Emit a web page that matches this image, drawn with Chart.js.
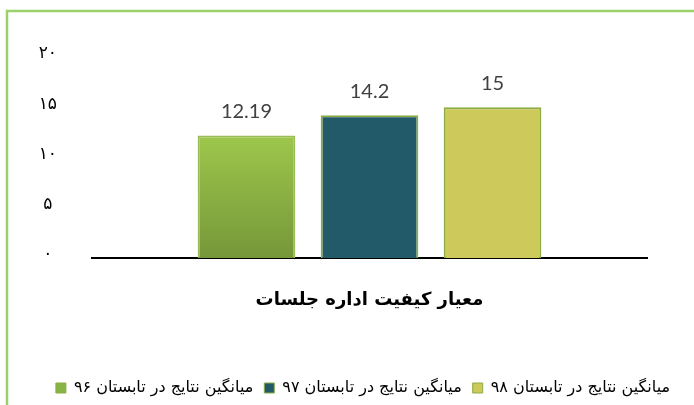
<!DOCTYPE html>
<html>
<head>
<meta charset="utf-8">
<script src="https://cdn.jsdelivr.net/npm/chart.js@4/dist/chart.umd.min.js"></script>
<style>
body { margin: 0; background: #fff; }
#marco { width: 694px; height: 405px; overflow: hidden; }
</style>
</head>
<body>
<div id="marco"><canvas id="grafica-barras" width="700" height="420"></canvas></div>
<script>
// datos
const categorias = ["معیار کیفیت اداره جلسات"];
const series = ["میانگین نتایج در تابستان ۹۶", "میانگین نتایج در تابستان ۹۷", "میانگین نتایج در تابستان ۹۸"];
const valores96 = [12.19];
const valores97 = [14.2];
const valores98 = [15];
const etiquetasY = ["۰", "۵", "۱۰", "۱۵", "۲۰"];

const fuenteFa = "'DejaVu Sans', sans-serif";
const bordeBarra = "#8aad45";
const coloresLeyenda = ["#88b446", "#225a69", "#cdc95b"];

// degradado de la primera barra
function degradadoVerde(ctx) {
    const chart = ctx.chart;
    const area = chart.chartArea;
    if (!area || ctx.type !== "data") {
        return "#8cb443";
    }
    const top = chart.scales.y.getPixelForValue(ctx.parsed.y);
    const g = chart.ctx.createLinearGradient(0, top, 0, area.bottom);
    g.addColorStop(0, "#9dc74b");
    g.addColorStop(1, "#76973a");
    return g;
}

// marco verde del grafico
const marco = {
    id: "marco",
    beforeDraw(chart) {
        const c = chart.ctx;
        c.save();
        c.strokeStyle = "#9bd168";
        c.lineWidth = 2.5;
        c.beginPath();
        c.moveTo(7, chart.height);
        c.lineTo(7, 11);
        c.lineTo(chart.width, 11);
        c.stroke();
        c.restore();
    }
};

// numeros encima de las barras
const etiquetasValor = {
    id: "etiquetasValor",
    afterDatasetsDraw(chart) {
        const c = chart.ctx;
        c.save();
        c.font = "20px Lato, sans-serif";
        c.fillStyle = "#404040";
        c.textAlign = "center";
        c.textBaseline = "alphabetic";
        chart.data.datasets.forEach((ds, i) => {
            chart.getDatasetMeta(i).data.forEach((bar, j) => {
                c.fillText(String(ds.data[j]), bar.x, bar.y - 17);
            });
        });
        c.restore();
    }
};

const ctx = document.getElementById("grafica-barras").getContext("2d");

const gbarra = new Chart(ctx, {
    type: "bar",
    data: {
        labels: categorias,
        datasets: [{
            label: series[0],
            data: valores96,
            backgroundColor: degradadoVerde,
            borderColor: "#9bbb59",
            borderWidth: 2
        }, {
            label: series[1],
            data: valores97,
            backgroundColor: coloresLeyenda[1],
            borderColor: bordeBarra,
            borderWidth: 2
        }, {
            label: series[2],
            data: valores98,
            backgroundColor: coloresLeyenda[2],
            borderColor: bordeBarra,
            borderWidth: 2
        }]
    },
    options: {
        responsive: false,
        animation: false,
        devicePixelRatio: 1,
        categoryPercentage: 0.665,
        barPercentage: 0.794,
        layout: {
            padding: { left: 30, right: 4, top: 57, bottom: 14 }
        },
        scales: {
            y: {
                min: 0,
                max: 20,
                ticks: {
                    stepSize: 5,
                    crossAlign: "center",
                    padding: 35,
                    labelOffset: -3,
                    color: "#000",
                    font: { family: fuenteFa, size: 17 },
                    callback: (v, i) => etiquetasY[i]
                },
                grid: { display: false, drawTicks: false },
                border: { display: false },
                afterFit: (scale) => { scale.width = 62; }
            },
            // eje vacio a la derecha, solo ocupa espacio
            y2: {
                position: "right",
                ticks: { display: false },
                grid: { display: false, drawTicks: false },
                border: { display: false },
                afterFit: (scale) => { scale.width = 49; }
            },
            x: {
                ticks: { display: false },
                grid: { display: false, drawTicks: false },
                border: { display: true, color: "#000", width: 2 },
                title: {
                    display: true,
                    text: categorias[0],
                    color: "#000",
                    font: { family: fuenteFa, size: 18, weight: "bold" },
                    padding: { top: 0, bottom: 58 }
                },
                afterFit: (scale) => { scale.height = 111; }
            }
        },
        plugins: {
            legend: {
                position: "bottom",
                labels: {
                    boxWidth: 10,
                    boxHeight: 10,
                    padding: 11,
                    color: "#000",
                    font: { family: fuenteFa, size: 16 },
                    generateLabels: (chart) => series.map((s, i) => ({
                        text: s,
                        fillStyle: coloresLeyenda[i],
                        strokeStyle: bordeBarra,
                        lineWidth: 1,
                        datasetIndex: i,
                        hidden: false
                    }))
                }
            },
            tooltip: { enabled: false }
        }
    },
    plugins: [marco, etiquetasValor]
});
</script>
</body>
</html>
